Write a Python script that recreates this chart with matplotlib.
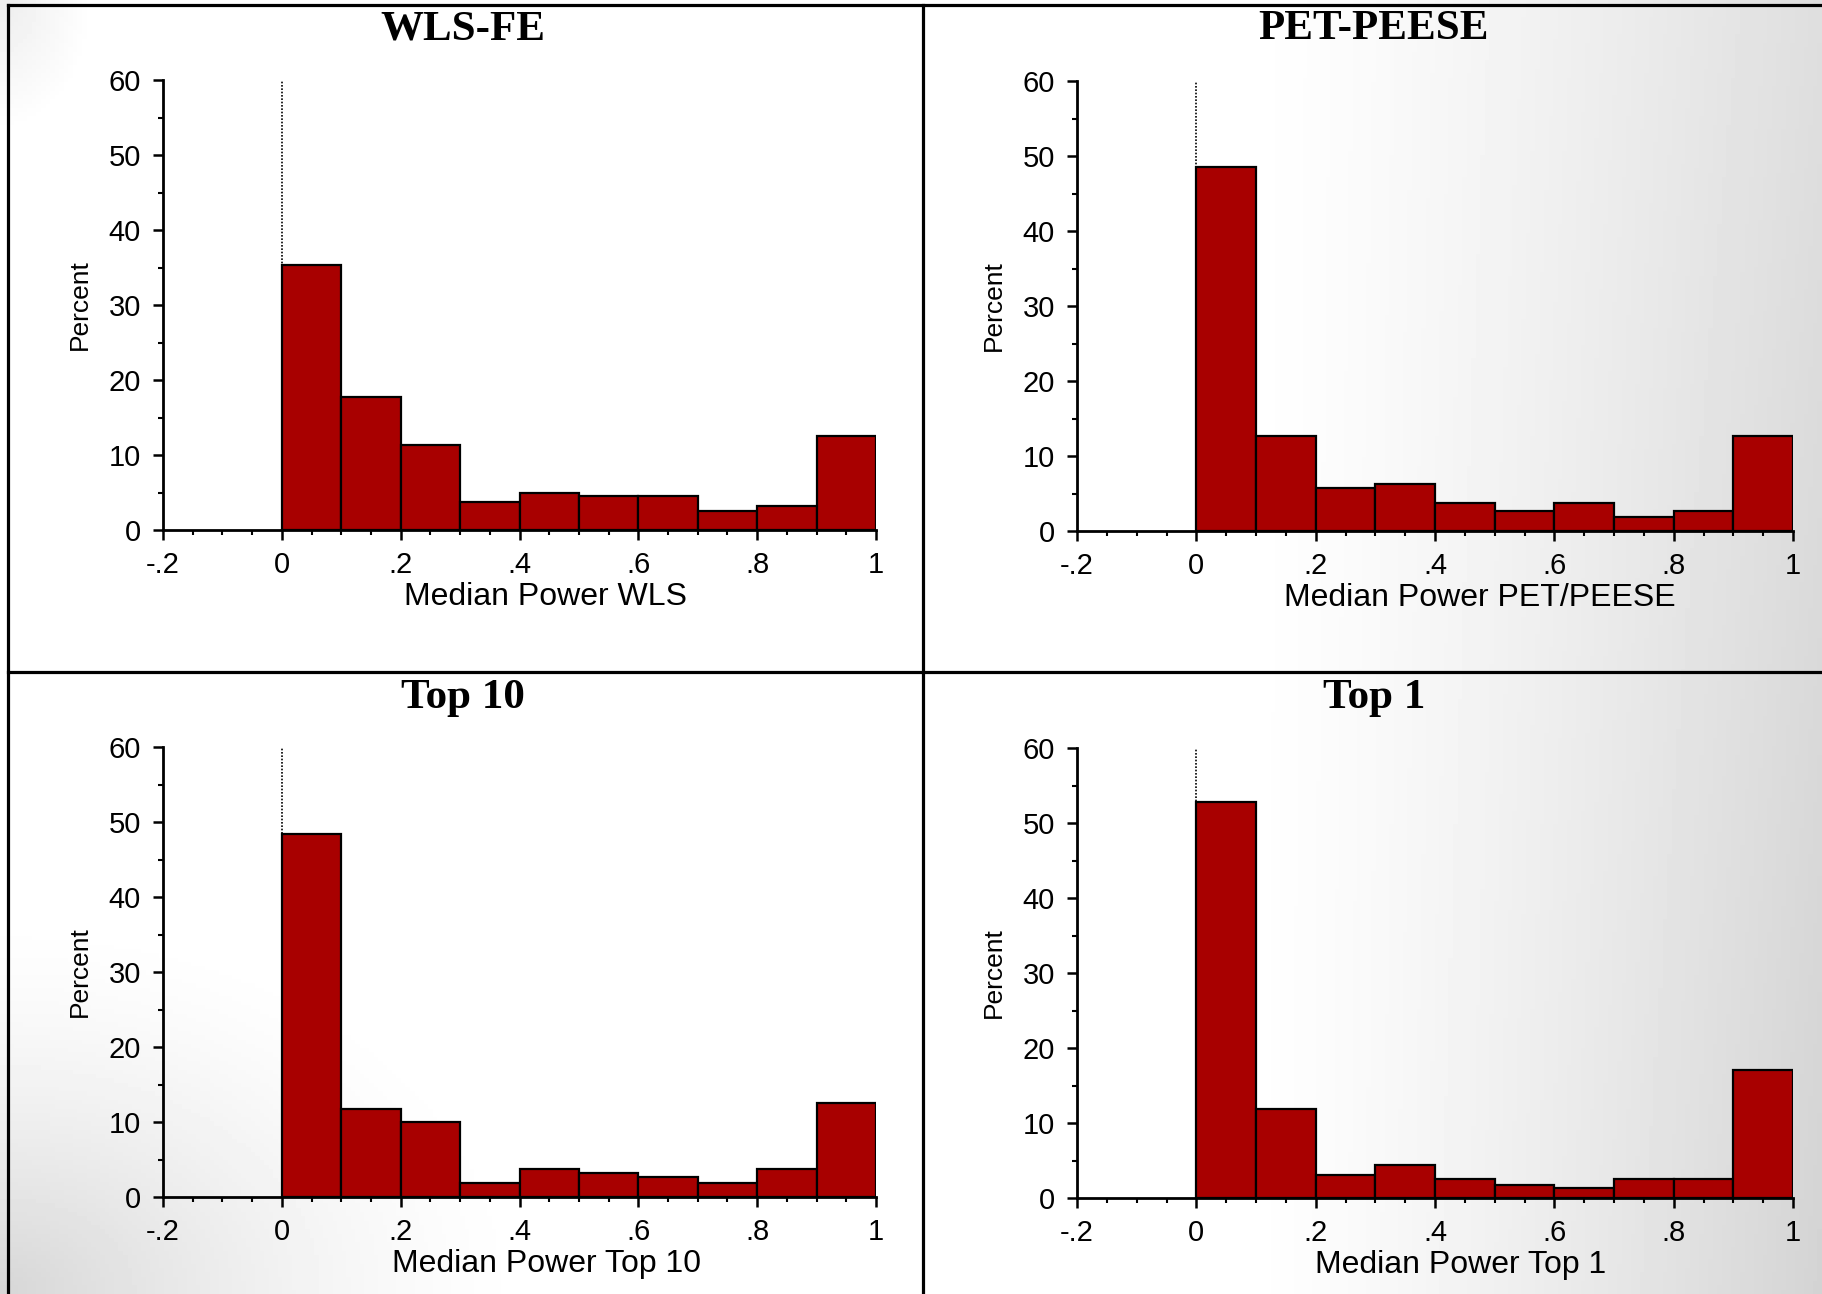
import numpy as np
import matplotlib
matplotlib.use('Agg')
from matplotlib import pyplot as plt

# bin edges of the histograms and the bar heights (percent)
edges = [0.0, 0.1, 0.2, 0.3, 0.4, 0.5, 0.6, 0.7, 0.8, 0.9]
wls_fe = [35.3, 17.7, 11.3, 3.7, 5.0, 4.5, 4.5, 2.6, 3.2, 12.6]
pet_peese = [48.5, 12.7, 5.8, 6.3, 3.7, 2.7, 3.7, 1.9, 2.7, 12.7]
top10 = [48.4, 11.8, 10.0, 1.9, 3.7, 3.2, 2.7, 1.9, 3.7, 12.6]
top1 = [52.8, 11.9, 3.1, 4.4, 2.6, 1.8, 1.3, 2.6, 2.6, 17.1]

titles = ['WLS-FE', 'PET-PEESE', 'Top 10', 'Top 1']
xlabels = ['Median Power WLS', 'Median Power PET/PEESE', 'Median Power Top 10', 'Median Power Top 1']
series = [wls_fe, pet_peese, top10, top1]
xticks = [-0.2, 0, 0.2, 0.4, 0.6, 0.8, 1]
xticklabels = ['-.2', '0', '.2', '.4', '.6', '.8', '1']
yticks = [0, 10, 20, 30, 40, 50, 60]

W, H = 1822, 1294
fig = plt.figure(figsize=(W/100, H/100), dpi=100)
fig.patch.set_facecolor('white')

# slide-like grey vignette behind everything
bg = fig.add_axes([0, 0, 1, 1], zorder=-10)
xx, yy = np.meshgrid(np.linspace(0, 1, 400), np.linspace(0, 1, 300))  # yy from top
r = np.clip((xx - 0.68) / 0.32, 0, 1) ** 1.3 * 0.17 * (0.75 + 0.25 * yy)
bl = np.clip(1 - np.sqrt((xx / 0.3) ** 2 + ((1 - yy) / 0.3) ** 2), 0, 1) ** 1.5 * 0.16
tl = np.clip(1 - np.sqrt((xx / 0.05) ** 2 + (yy / 0.1) ** 2), 0, 1) * 0.07
img = 1 - np.maximum(np.maximum(r, bl), tl)
bg.imshow(img, extent=[0, 1, 0, 1], aspect='auto', cmap='gray', vmin=0, vmax=1, origin='upper')
bg.set_xlim(0, 1); bg.set_ylim(0, 1); bg.axis('off')

xl, yt, xv, yh = 8/W, 1 - 5/H, 923/W, 1 - 672/H
lw = 2.3
bg.plot([xl, 1], [yt, yt], color='black', lw=lw)
bg.plot([xl, xl], [0, yt], color='black', lw=lw)
bg.plot([xv, xv], [0, yt], color='black', lw=lw)
bg.plot([xl, 1], [yh, yh], color='black', lw=lw)

# axes boxes in pixels: left, right, top, bottom
boxes = [(163, 876, 80, 530), (1077, 1793, 81, 531), (163, 876, 747, 1197), (1077, 1793, 748, 1198)]
title_pos = [(0.254, 1 - 29/H), (0.754, 1 - 29/H), (0.254, 1 - 698/H), (0.754, 1 - 698/H)]
xlab_x = [0.537, 0.563, 0.538, 0.536]

sans = ['Liberation Sans', 'DejaVu Sans']

for i in range(4):
    l, rr, t, b = boxes[i]
    ax = fig.add_axes([l/W, 1 - b/H, (rr - l)/W, (b - t)/H])
    ax.set_facecolor('none')
    ax.bar(edges, series[i], width=0.1, align='edge', color='#a80000',
           edgecolor='black', linewidth=1.6, zorder=3)
    ax.vlines(0, 0, 60, colors='black', linestyles=(0, (1, 1)), linewidth=1.2, zorder=4)
    ax.set_xlim(-0.2, 1)
    ax.set_ylim(0, 60)
    for s in ['top', 'right']:
        ax.spines[s].set_visible(False)
    for s in ['left', 'bottom']:
        ax.spines[s].set_linewidth(2.0)
    ax.set_xticks(xticks)
    ax.set_xticklabels(xticklabels, fontfamily=sans, fontsize=21)
    ax.set_yticks(yticks)
    ax.set_yticklabels([str(v) for v in yticks], fontfamily=sans, fontsize=21)
    ax.set_xticks(np.arange(-0.15, 1.0, 0.05), minor=True)
    ax.set_yticks(np.arange(5, 60, 10), minor=True)
    ax.tick_params(which='major', length=7, width=1.8, pad=8)
    ax.tick_params(axis='y', which='major', pad=9)
    ax.tick_params(which='minor', length=3.5, width=1.5)
    ax.set_xlabel(xlabels[i], fontfamily=sans, fontsize=23)
    ax.xaxis.set_label_coords(xlab_x[i], -0.115)
    ax.set_ylabel('Percent', fontfamily=sans, fontsize=19)
    ax.yaxis.set_label_coords(-0.1, 0.5)
    fig.text(title_pos[i][0], title_pos[i][1], titles[i], ha='center', va='center',
             fontfamily=['Liberation Serif', 'DejaVu Serif'], fontweight='bold', fontsize=31)

fig.savefig('out.png', dpi=100)
